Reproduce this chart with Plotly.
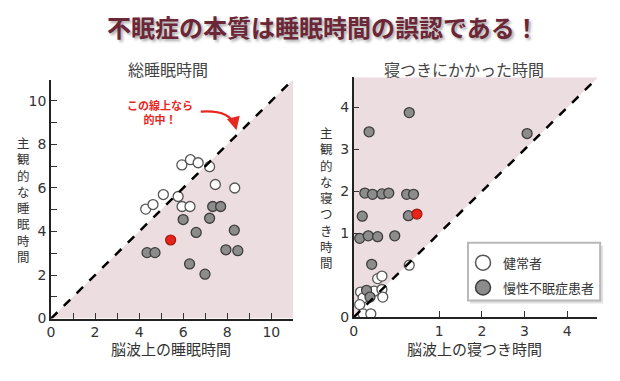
import plotly.graph_objects as go

# ---------------- data ----------------
# Left: total sleep time (hours)
tst_healthy_eeg = [4.30, 4.63, 5.10, 5.77, 5.94, 6.33, 6.68, 7.20, 7.46, 8.34, 5.95, 6.31]
tst_healthy_subj = [5.03, 5.24, 5.70, 5.61, 7.06, 7.30, 7.16, 6.98, 6.16, 6.00, 5.15, 5.15]
tst_insom_eeg = [7.34, 7.70, 6.00, 7.20, 6.59, 8.32, 4.36, 4.72, 7.94, 8.48, 6.29, 6.99]
tst_insom_subj = [5.15, 5.15, 4.55, 4.61, 3.96, 4.06, 3.03, 3.03, 3.16, 3.12, 2.51, 2.04]
tst_mark_eeg = [5.43]
tst_mark_subj = [3.61]

# Right: sleep latency (hours)
sl_healthy_eeg = [0.65, 0.28, 0.33, 0.08, 0.24, 0.33, 0.11, 0.34, 0.07, 0.11, 0.20]
sl_healthy_subj = [0.62, 0.46, 0.49, 0.30, 0.31, 0.33, 0.23, 0.24, 0.15, 0.04, 0.04]
sl_insom_eeg = [0.13, 0.22, 0.33, 0.41, 0.62, 0.70, 0.10, 0.64, 0.07, 0.17, 0.28, 0.48,
                0.18, 0.65, 3.06, 0.21, 0.15, 0.19]
sl_insom_subj = [1.96, 1.93, 1.94, 1.96, 1.93, 1.93, 1.41, 1.42, 0.94, 0.97, 0.96, 0.97,
                 3.42, 3.88, 3.38, 0.63, 0.32, 0.24]
sl_mark_eeg = [0.74]
sl_mark_subj = [1.46]

sl_ticks = [0, 1, 2, 3, 4]
tst_ticks = [0, 2, 4, 6, 8, 10]


def sl_scale(v):
    # the latency axes stretch the first hour to twice the size
    return 2 * v if v <= 1 else v + 1


W, H = 620, 381
def px(x):
    return x / W
def py(y):
    return 1 - y / H

CJK = "Noto Sans CJK JP"
NUM = "DejaVu Sans"

WHITE = dict(color="white", size=10, line=dict(color="#555555", width=1.3))
GRAY = dict(color="#8c8c8c", size=10, line=dict(color="#3d3d3d", width=1.3))
RED = dict(color="#e8231a", size=10, line=dict(color="#9a1a10", width=1.2))

fig = go.Figure()

# left panel
fig.add_trace(go.Scatter(x=tst_healthy_eeg, y=tst_healthy_subj, mode="markers",
                         marker=WHITE, showlegend=False, xaxis="x", yaxis="y"))
fig.add_trace(go.Scatter(x=tst_insom_eeg, y=tst_insom_subj, mode="markers",
                         marker=GRAY, showlegend=False, xaxis="x", yaxis="y"))
fig.add_trace(go.Scatter(x=tst_mark_eeg, y=tst_mark_subj, mode="markers",
                         marker=RED, showlegend=False, xaxis="x", yaxis="y"))

# right panel
fig.add_trace(go.Scatter(x=[sl_scale(v) for v in sl_healthy_eeg],
                         y=[sl_scale(v) for v in sl_healthy_subj], mode="markers",
                         marker=WHITE, showlegend=False, xaxis="x2", yaxis="y2"))
fig.add_trace(go.Scatter(x=[sl_scale(v) for v in sl_insom_eeg],
                         y=[sl_scale(v) for v in sl_insom_subj], mode="markers",
                         marker=GRAY, showlegend=False, xaxis="x2", yaxis="y2"))
fig.add_trace(go.Scatter(x=[sl_scale(v) for v in sl_mark_eeg],
                         y=[sl_scale(v) for v in sl_mark_subj], mode="markers",
                         marker=RED, showlegend=False, xaxis="x2", yaxis="y2"))

# legend entries (bigger symbols)
fig.add_trace(go.Scatter(x=[None], y=[None], mode="markers", name="健常者",
                         legendgroup="a",
                         marker=dict(color="white", size=15, line=dict(color="#555555", width=1.5)),
                         xaxis="x2", yaxis="y2"))
fig.add_trace(go.Scatter(x=[None], y=[None], mode="markers", name="慢性不眠症患者",
                         legendgroup="b",
                         marker=dict(color="#8c8c8c", size=15, line=dict(color="#3d3d3d", width=1.5)),
                         xaxis="x2", yaxis="y2"))

L_MAX_X, L_MAX_Y = 11.0, 10.95
R_MAX_X, R_MAX_Y = 5.70, 5.72

shapes = [
    dict(type="path", xref="x", yref="y", layer="below", line=dict(width=0),
         fillcolor="#ecdde1",
         path=f"M 0,0 L {L_MAX_X},0 L {L_MAX_X},{L_MAX_X} Z"),
    dict(type="line", xref="x", yref="y", x0=0, y0=0, x1=L_MAX_X, y1=L_MAX_X,
         line=dict(color="black", width=2.5, dash="dash")),
    dict(type="path", xref="x2", yref="y2", layer="below", line=dict(width=0),
         fillcolor="#ecdde1",
         path=f"M 0,0 L 0,{R_MAX_Y} L {R_MAX_X},{R_MAX_Y} L {R_MAX_X},{R_MAX_X} Z"),
    dict(type="line", xref="x2", yref="y2", x0=0, y0=0, x1=R_MAX_X, y1=R_MAX_X,
         line=dict(color="black", width=2.5, dash="dash")),
    # curved red arrow
    dict(type="path", xref="paper", yref="paper",
         path=f"M {px(198)},{py(114)} Q {px(227)},{py(112)} {px(232)},{py(128)}",
         line=dict(color="#e8271f", width=2.2)),
    # legend box with soft shadow
    dict(type="rect", xref="paper", yref="paper", layer="above",
         x0=px(469), x1=px(603), y0=py(251), y1=py(310),
         line=dict(width=0), fillcolor="rgba(0,0,0,0.12)"),
    dict(type="rect", xref="paper", yref="paper", layer="above",
         x0=px(467), x1=px(600), y0=py(248), y1=py(307),
         line=dict(color="#b8b8b8", width=2), fillcolor="white"),
]


def label(text, x, y, size, color, family=CJK, **kw):
    return dict(text=text, x=px(x), y=py(y), xref="paper", yref="paper",
                xanchor="center", yanchor="middle", showarrow=False,
                font=dict(family=family, size=size, color=color, **kw))


annotations = [
    label("<b>不眠症の本質は睡眠時間の誤認である！</b>", 321, 27, 24, "#6b2737",
          shadow="2px 2px 3px rgba(0,0,0,0.35)"),
    label("総睡眠時間", 165, 70, 16, "#444444"),
    label("寝つきにかかった時間", 463, 70, 16, "#444444"),
    label("脳波上の睡眠時間", 168, 356, 15, "#333333"),
    label("脳波上の寝つき時間", 474, 356, 15, "#333333"),
    label("<b>この線上なら<br>的中！</b>", 157, 114, 11, "#e8271f"),
    dict(text="", x=px(234), y=py(133), xref="paper", yref="paper",
         showarrow=True, ax=-1.5, ay=-6, arrowhead=2, arrowsize=1.2,
         arrowwidth=2.2, arrowcolor="#e8271f", standoff=0),
    label("<br>".join("主観的な睡眠時間"), 20, 204, 12.5, "#333333"),
    label("<br>".join("主観的な寝つき時間"), 325, 202, 12.5, "#333333"),
]

axis_common = dict(showline=True, linecolor="#222222", linewidth=1.5,
                   showgrid=False, zeroline=False, ticks="inside", ticklen=6,
                   tickwidth=1.2, tickcolor="#333333",
                   tickfont=dict(family=NUM, size=14, color="#333333"))

fig.update_layout(
    width=W, height=H,
    margin=dict(l=0, r=0, t=0, b=0),
    paper_bgcolor="white", plot_bgcolor="white",
    font=dict(family=f"{NUM}, {CJK}"),
    xaxis=dict(domain=[px(47.3), px(291.2)], range=[0, L_MAX_X], anchor="y",
               tickmode="array", tickvals=tst_ticks,
               minor=dict(dtick=1, tick0=0, ticks="inside", ticklen=6,
                          tickcolor="#333333", tickwidth=1.2),
               **axis_common),
    yaxis=dict(domain=[py(325.4), py(82)], range=[0, L_MAX_Y], anchor="x",
               tickmode="array", tickvals=tst_ticks,
               minor=dict(dtick=1, tick0=0, ticks="inside", ticklen=6,
                          tickcolor="#333333", tickwidth=1.2),
               **axis_common),
    xaxis2=dict(domain=[px(352), px(597)], range=[0, R_MAX_X], anchor="y2",
                tickmode="array", tickvals=[sl_scale(v) for v in sl_ticks],
                ticktext=[str(v) for v in sl_ticks], **axis_common),
    yaxis2=dict(domain=[py(324), py(79)], range=[0, R_MAX_Y], anchor="x2",
                tickmode="array", tickvals=[sl_scale(v) for v in sl_ticks],
                ticktext=[str(v) for v in sl_ticks], **axis_common),
    shapes=shapes,
    annotations=annotations,
    legend=dict(x=px(462), y=py(253), xanchor="left", yanchor="top",
                bgcolor="rgba(0,0,0,0)", borderwidth=0,
                font=dict(family=CJK, size=13, color="#333333"),
                traceorder="grouped", tracegroupgap=5),
)

fig.write_html("out.html", config={"displayModeBar": False},
               post_script="document.body.style.margin='0';document.body.style.overflow='hidden';")
